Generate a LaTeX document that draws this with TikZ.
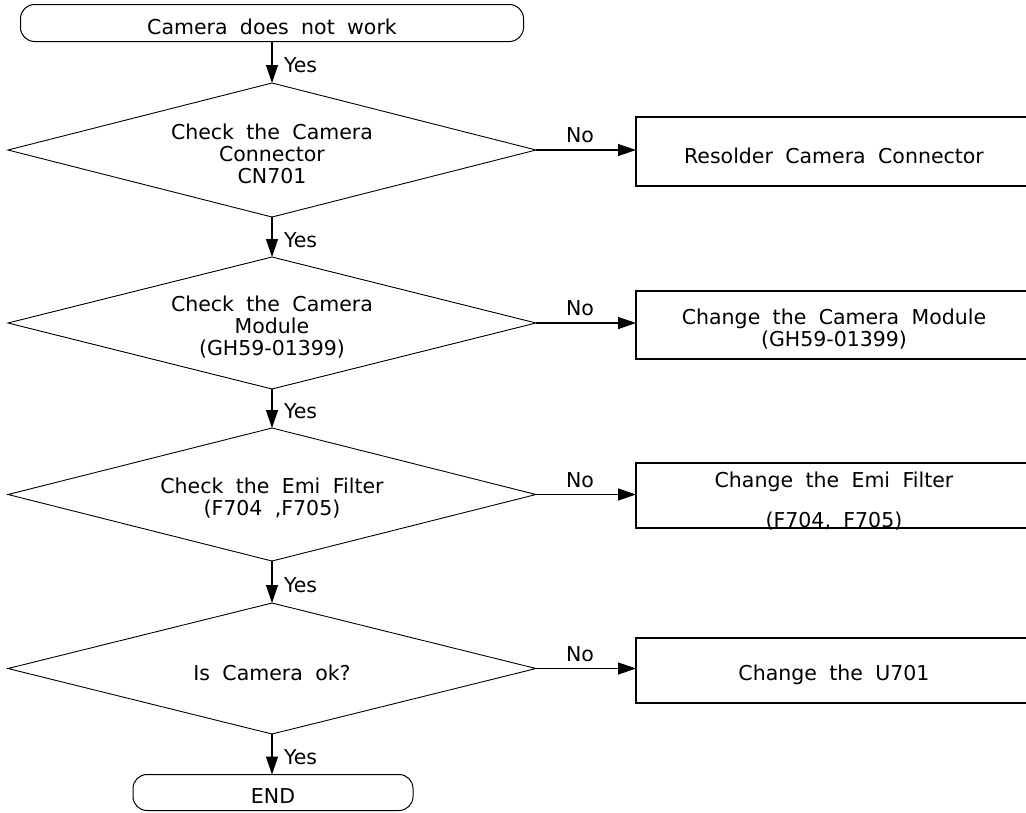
\documentclass[tikz,border=0pt]{standalone}
\usepackage{fontspec}
\setmainfont{DejaVu Sans}[WordSpace=1.9]
\usetikzlibrary{shapes.geometric,arrows.meta}
\begin{document}
\begin{tikzpicture}[x=1pt,y=-1pt,
  every node/.style={font=\fontsize{20.5}{22}\selectfont, inner sep=0pt, outer sep=0pt},
  term/.style={draw, line width=1pt, rounded corners=14pt, minimum height=37pt},
  dia/.style={draw, line width=0.9pt, diamond, minimum width=528pt},
  act/.style={draw, line width=1.4pt, minimum width=396pt},
  txt/.style={align=center, yshift=-4pt},
  arr/.style={line width=1.3pt, -{Triangle[length=18pt,width=12pt]}},
  yes/.style={right, xshift=12pt, yshift=-3pt},
  no/.style={above, yshift=7pt, xshift=-6pt}
]
\useasboundingbox (0,0) rectangle (1026,812);
\clip (0,0) rectangle (1026,812);

% terminators
\node[term, minimum width=503pt, label={[txt]center:Camera does not work}] (s) at (272,23) {};
\node[term, minimum width=280pt, minimum height=36pt, label={[txt]center:END}] (e) at (273,792.5) {};

% decisions
\node[dia, minimum height=134pt, label={[txt]center:{Check the Camera\\Connector\\CN701}}] (d1) at (272,150) {};
\node[dia, minimum height=132pt, label={[txt]center:{Check the Camera\\Module\\(GH59-01399)}}] (d2) at (272,323) {};
\node[dia, minimum height=133pt, label={[txt]center:{Check the Emi Filter\\(F704 ,F705)}}] (d3) at (272,494.5) {};
\node[dia, minimum height=131pt, label={[txt]center:Is Camera ok?}] (d4) at (272,668.5) {};

% actions
\node[act, minimum height=69pt, label={[txt]center:Resolder Camera Connector}] (b1) at (834,151.5) {};
\node[act, minimum height=68pt, label={[txt]center:{Change the Camera Module\\(GH59-01399)}}] (b2) at (834,325) {};
\node[act, minimum height=65pt, label={[txt,yshift=-2pt]center:{Change the Emi Filter\\[18pt](F704, F705)}}] (b3) at (834,495.5) {};
\node[act, minimum height=65pt, label={[txt]center:Change the U701}] (b4) at (834,670.5) {};

% vertical connectors
\draw[arr] (s.south -| d1.north) -- node[yes]{Yes} (d1.north);
\draw[arr] (d1.south) -- node[yes]{Yes} (d2.north);
\draw[arr] (d2.south) -- node[yes]{Yes} (d3.north);
\draw[arr] (d3.south) -- node[yes]{Yes} (d4.north);
\draw[arr] (d4.south) -- node[yes]{Yes} (d4.south |- e.north);

% horizontal connectors
\draw[arr] (d1.east) -- node[no]{No} (d1.east -| b1.west);
\draw[arr] (d2.east) -- node[no]{No} (d2.east -| b2.west);
\draw[arr] (d3.east) -- node[no]{No} (d3.east -| b3.west);
\draw[arr] (d4.east) -- node[no]{No} (d4.east -| b4.west);
\end{tikzpicture}
\end{document}
